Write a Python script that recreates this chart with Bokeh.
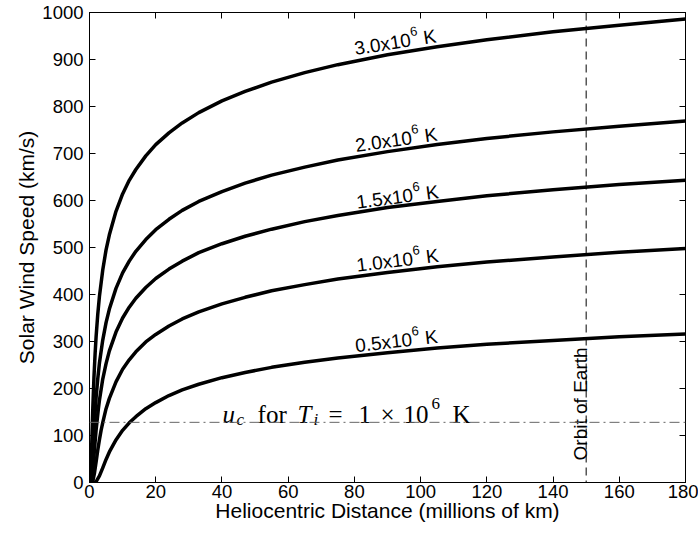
import math
from bokeh.plotting import figure
from bokeh.models import Span, LinearAxis, ColumnDataSource, Range1d, FixedTicker, CustomLabelingPolicy
from bokeh.embed import file_html
from bokeh.resources import INLINE
from bokeh.core.properties import value

# ---------------- data ----------------
x_ticks = [0, 20, 40, 60, 80, 100, 120, 140, 160, 180]
y_ticks = [0, 100, 200, 300, 400, 500, 600, 700, 800, 900, 1000]

r_30 = [0.2, 0.3, 0.5, 0.7, 1.0, 1.34, 1.7, 2, 2.5, 3, 4, 5, 6, 8, 10, 12, 14, 17, 20, 24, 28, 33,
        40, 47, 55, 65, 75, 90, 105, 120, 140, 160, 180]
v_30 = [0, 3, 34, 86, 158, 223, 275, 311, 358, 396, 452, 495, 527, 577, 614, 643, 666, 695, 719, 744,
        765, 787, 812, 832, 852, 872, 889, 910, 927, 942, 959, 973, 986]

r_20 = [0.3, 0.5, 0.7, 1.0, 1.4, 2.01, 2.5, 3, 4, 5, 6, 8, 10, 12, 14, 17, 20, 24, 28, 33,
        40, 47, 55, 65, 75, 90, 105, 120, 140, 160, 180]
v_20 = [0, 4, 22, 63, 117, 182, 221, 254, 303, 340, 369, 413, 446, 471, 492, 517, 538, 560,
        579, 598, 619, 637, 654, 671, 686, 704, 719, 732, 746, 758, 769]

r_15 = [0.5, 0.8, 1.2, 1.6, 2.0, 2.68, 3, 4, 5, 6, 8, 10, 12, 14, 17, 20, 24, 28, 33,
        40, 47, 55, 65, 75, 90, 105, 120, 140, 160, 180]
v_15 = [0, 10, 42, 79, 112, 157, 175, 220, 253, 280, 320, 350, 373, 392, 415, 434, 454,
        471, 489, 508, 524, 539, 555, 568, 585, 598, 610, 623, 634, 643]

r_10 = [0.7, 1.0, 1.5, 2.0, 2.5, 3.0, 3.5, 4.02, 5, 6, 8, 10, 12, 14, 17, 20, 24, 28, 33,
        40, 47, 55, 65, 75, 90, 105, 120, 140, 160, 180]
v_10 = [0, 3, 20, 44, 69, 91, 111, 128, 157, 179, 214, 241, 261, 278, 299, 315, 333,
        348, 363, 380, 394, 408, 421, 433, 447, 459, 469, 480, 490, 498]

r_05 = [1.5, 2, 3, 4, 5, 6, 7, 8.04, 10, 12, 14, 17, 20, 24, 28, 33, 40, 47, 55, 65, 75,
        90, 105, 120, 140, 160, 180]
v_05 = [0, 2, 14, 31, 49, 65, 78, 91, 111, 127, 140, 157, 170, 185, 197, 209, 223, 234,
        245, 256, 265, 276, 286, 294, 302, 310, 316]

curve_labels = ["3.0x10", "2.0x10", "1.5x10", "1.0x10", "0.5x10"]
label_x = [80.0, 80.3, 80.6, 80.6, 80.3]
label_y = [923, 717, 596, 462, 291]
label_angle = [9.0, 8.0, 7.5, 7.0, 6.5]

orbit_of_earth = 150
u_c = 128

# ---------------- figure ----------------
FONT = "Liberation Sans"
p = figure(width=698, height=533, x_range=Range1d(0, 180), y_range=Range1d(0, 1000),
           output_backend="svg", toolbar_location=None,
           min_border_left=89, min_border_right=13, min_border_top=12, min_border_bottom=51)
p.background_fill_color = "white"
p.border_fill_color = "white"
p.outline_line_color = "black"
p.outline_line_width = 1
p.xgrid.visible = False
p.ygrid.visible = False

p.xaxis.ticker = FixedTicker(ticks=x_ticks)
p.yaxis.ticker = FixedTicker(ticks=y_ticks)
p.xaxis.axis_label = "Heliocentric Distance (millions of km)"
p.yaxis.axis_label = "Solar Wind Speed (km/s)"
for ax in (p.xaxis[0], p.yaxis[0]):
    ax.axis_line_color = "black"
    ax.major_tick_line_color = "black"
    ax.major_tick_in = 6
    ax.major_tick_out = 0
    ax.minor_tick_line_color = None
    ax.major_label_text_font = FONT
    ax.major_label_text_font_size = "18.5px"
    ax.major_label_text_color = "black"
    ax.axis_label_text_font = FONT
    ax.axis_label_text_font_size = "21px"
    ax.axis_label_text_font_style = "normal"
    ax.axis_label_text_color = "black"
p.xaxis.major_label_standoff = 2
p.xaxis.axis_label_standoff = -2
p.yaxis.major_label_standoff = 6
p.yaxis.axis_label_standoff = 1

no_labels = CustomLabelingPolicy(code="return new Set()")
for loc, tk in (("above", x_ticks), ("right", y_ticks)):
    ax = LinearAxis(ticker=FixedTicker(ticks=tk), major_label_text_font_size="1px",
                    major_label_policy=no_labels,
                    major_label_standoff=0, major_tick_in=6, major_tick_out=0,
                    minor_tick_line_color=None, axis_line_color="black",
                    major_tick_line_color="black")
    p.add_layout(ax, loc)

# reference lines
p.add_layout(Span(location=orbit_of_earth, dimension="height", line_color="black",
                  line_width=1, line_dash="8 5"))
p.add_layout(Span(location=u_c, dimension="width", line_color="#666666",
                  line_width=1, line_dash="10 4 2 4"))

# curves
for rr, vv in ((r_30, v_30), (r_20, v_20), (r_15, v_15), (r_10, v_10), (r_05, v_05)):
    p.line(rr, vv, line_color="black", line_width=3.5, line_join="round")

# curve labels with superscript
txt, tx, ty, ta, xo, yo, fs = [], [], [], [], [], [], []
pieces = [(None, 0.0, 0.0, "19px"), ("6", 57.5, 8.0, "13px"), ("K", 70.0, 0.0, "19px")]
for lab, lx, ly, la in zip(curve_labels, label_x, label_y, label_angle):
    th = math.radians(la)
    for t, d, h, s in pieces:
        txt.append(lab if t is None else t)
        tx.append(lx)
        ty.append(ly)
        ta.append(la)
        xo.append(d * math.cos(th) - h * math.sin(th))
        yo.append(-(d * math.sin(th) + h * math.cos(th)))
        fs.append(s)
src = ColumnDataSource(dict(x=tx, y=ty, text=txt, angle=ta, xo=xo, yo=yo, fs=fs))
p.text(x="x", y="y", text="text", angle="angle", angle_units="deg", x_offset="xo", y_offset="yo",
       text_font_size="fs", text_font=value(FONT), text_color="black",
       text_align="left", text_baseline="alphabetic", source=src)

# u_c label (LaTeX-like)
uc_text = ["u", "c", "for", "T", "i", "=", "1", "\u00d7", "10", "6", "K"]
uc_style = ["italic", "italic", "normal", "italic", "italic", "normal", "normal", "normal", "normal", "normal", "normal"]
uc_size = ["25px", "17px", "25px", "25px", "17px", "25px", "25px", "25px", "25px", "17px", "25px"]
uc_xo = [0, 14, 35, 75, 91, 106, 136, 158, 181, 209, 230]
uc_yo = [-8, -3, -8, -8, -3, -8, -8, -8, -8, -19, -8]
uc_src = ColumnDataSource(dict(x=[40.2] * len(uc_text), y=[u_c] * len(uc_text), text=uc_text,
                               st=uc_style, fs=uc_size, xo=uc_xo, yo=uc_yo))
p.text(x="x", y="y", text="text", x_offset="xo", y_offset="yo", text_font_size="fs",
       text_font_style="st", text_font=value("Liberation Serif"), text_color="black",
       text_align="left", text_baseline="alphabetic", source=uc_src)

# Orbit of Earth label
p.text(x=[orbit_of_earth], y=[47], text=["Orbit of Earth"], angle=90, angle_units="deg",
       x_offset=-6, text_font_size="19px", text_font=value(FONT), text_color="black",
       text_align="left", text_baseline="alphabetic")

open("out.html", "w").write(file_html(p, INLINE))
